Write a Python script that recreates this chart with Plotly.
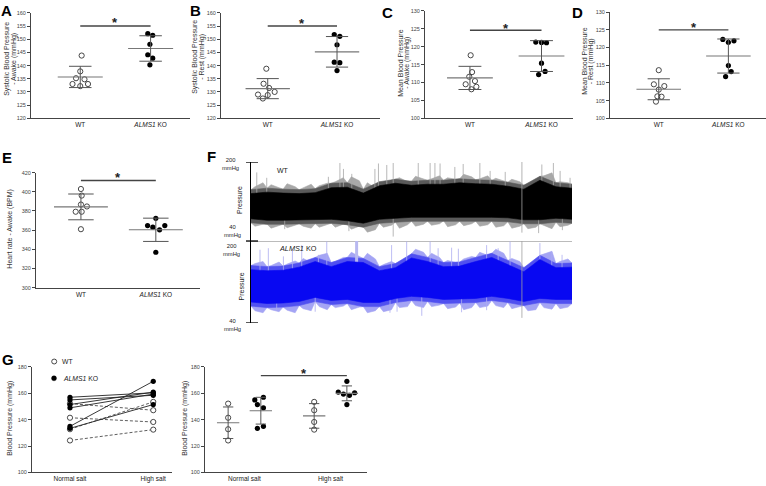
import numpy as np
import plotly.graph_objects as go

W, H = 766, 486
FONT = "Liberation Sans, Arial, Helvetica, sans-serif"
AX = "#444444"
TXT = "#333333"

# ---------------- data ----------------
genotype_ticks = ["WT", "<i>ALMS1</i> KO"]

sbp_awake_wt = [143.8, 137.8, 135.2, 134.8, 133.0, 133.0, 132.2]
sbp_awake_ko = [152.1, 151.5, 148.1, 144.1, 142.8, 140.3]
sbp_rest_wt = [138.8, 133.1, 131.5, 129.0, 130.0, 127.5, 128.8]
sbp_rest_ko = [151.8, 151.1, 147.9, 141.3, 141.1, 138.1]
mbp_awake_wt = [117.6, 112.9, 111.6, 110.4, 109.5, 108.8, 108.1]
mbp_awake_ko = [121.3, 121.1, 121.2, 115.4, 113.1, 112.2]
mbp_rest_wt = [113.6, 109.6, 109.1, 108.1, 106.2, 106.1, 104.7]
mbp_rest_ko = [122.3, 121.5, 121.9, 114.9, 113.2, 111.8]
hr_awake_wt = [402.9, 396.0, 386.7, 384.7, 379.2, 379.2, 361.0]
hr_awake_ko = [372.3, 364.8, 363.1, 364.8, 360.3, 337.0]

# horizontal scatter of the dots (category units)
jit_a_wt = [0.02, 0.0, -0.06, 0.06, -0.11, 0.11, 0.0]
jit_a_ko = [-0.04, 0.03, -0.01, -0.04, 0.03, -0.01]
jit_b_wt = [-0.02, -0.06, 0.02, -0.14, 0.10, -0.07, 0.0]
jit_b_ko = [-0.04, 0.04, 0.0, -0.04, 0.04, 0.0]
jit_c_wt = [0.01, 0.03, -0.01, 0.07, -0.06, 0.09, 0.02]
jit_c_ko = [-0.08, 0.07, 0.0, 0.0, 0.05, -0.04]
jit_d_wt = [0.0, -0.07, 0.08, 0.0, -0.02, 0.04, -0.04]
jit_d_ko = [-0.08, 0.0, 0.08, 0.0, 0.04, -0.04]
jit_e_wt = [0.0, 0.01, 0.0, 0.08, -0.07, 0.01, 0.0]
jit_e_ko = [0.0, -0.11, -0.04, 0.12, 0.05, 0.0]

# panel G: salt diet
salt_ticks = ["Normal salt", "High salt"]
wt_normal = [152.1, 141.4, 132.7, 124.2]
wt_high = [147.1, 138.2, 153.4, 132.4]
ko_normal = [156.9, 154.9, 151.4, 148.9, 134.9, 133.4]
ko_high = [160.3, 158.4, 160.8, 159.3, 169.0, 151.4]
jit_g_ko_normal = [0.03, -0.07, -0.04, 0.03, 0.03, -0.04]
jit_g_ko_high = [0.09, 0.03, -0.10, -0.04, 0.0, 0.0]

# panel F: telemetry pressure traces (envelopes read every 5 % of the record)
f_t = [0, 5, 10, 15, 20, 25, 30, 35, 40, 45, 50, 55, 60, 65, 70, 75, 80, 85, 90, 95, 100]
wt_core_hi = [136, 139, 137, 136, 138, 148, 149, 137, 152, 157, 153, 155, 155, 158, 156, 155, 151, 145, 163, 150, 147]
wt_core_lo = [85, 82, 82, 83, 83, 84, 81, 76, 84, 86, 88, 88, 89, 88, 88, 88, 87, 83, 83, 86, 84]
wt_fringe_hi = [144, 147, 145, 144, 146, 157, 158, 145, 160, 165, 161, 163, 163, 166, 164, 163, 159, 153, 171, 158, 155]
wt_fringe_lo = [77, 74, 74, 75, 75, 76, 73, 68, 76, 78, 80, 80, 81, 80, 80, 80, 79, 75, 75, 78, 76]
ko_core_hi = [144, 142, 143, 149, 160, 150, 160, 158, 142, 148, 167, 160, 150, 151, 160, 168, 154, 140, 164, 148, 149]
ko_core_lo = [81, 78, 79, 82, 90, 84, 86, 80, 80, 88, 92, 90, 86, 87, 88, 92, 88, 82, 88, 86, 86]
ko_fringe_hi = [152, 150, 151, 157, 168, 158, 168, 166, 150, 156, 175, 168, 158, 159, 168, 176, 162, 148, 172, 156, 157]
ko_fringe_lo = [73, 70, 71, 74, 82, 76, 78, 72, 72, 80, 84, 82, 78, 79, 80, 84, 80, 74, 80, 78, 78]

# short excursions ("hair") at the band edges, read every 2.5 % of the record
hair_t = [1.25, 3.75, 6.25, 8.75, 11.25, 13.75, 16.25, 18.75, 21.25, 23.75,
          26.25, 28.75, 31.25, 33.75, 36.25, 38.75, 41.25, 43.75, 46.25, 48.75,
          51.25, 53.75, 56.25, 58.75, 61.25, 63.75, 66.25, 68.75, 71.25, 73.75,
          76.25, 78.75, 81.25, 83.75, 86.25, 88.75, 91.25, 93.75, 96.25, 98.75]
wt_hair_hi = [150, 158, 154, 149, 156, 150, 148, 155, 152, 157, 160, 168, 170, 162, 158, 147, 152, 163, 168, 160,
              171, 165, 166, 172, 168, 165, 175, 170, 166, 172, 167, 162, 165, 160, 156, 150, 172, 178, 160, 158]
wt_hair_lo = [70, 74, 66, 71, 67, 72, 70, 66, 68, 73, 68, 74, 64, 70, 58, 63, 68, 72, 66, 73,
              70, 74, 72, 75, 69, 73, 71, 75, 70, 73, 68, 71, 66, 70, 65, 68, 72, 65, 69, 72]
ko_hair_hi = [156, 160, 152, 159, 155, 161, 166, 158, 172, 176, 160, 168, 178, 170, 176, 165, 154, 160, 158, 166,
              184, 178, 176, 168, 162, 158, 165, 170, 178, 172, 184, 176, 166, 160, 152, 158, 175, 180, 160, 165]
ko_hair_lo = [64, 60, 66, 62, 65, 60, 68, 64, 72, 66, 70, 73, 66, 71, 60, 64, 62, 66, 70, 72,
              74, 70, 72, 75, 68, 71, 66, 70, 70, 73, 74, 70, 68, 72, 64, 66, 70, 67, 68, 71]

wt_spike_t = [1.8, 4.9, 24.1, 27.7, 28.8, 31.4, 38.6, 39.7, 42.3, 44.3, 52.1, 55.8, 57.3, 58.9,
              63.5, 66.1, 71.3, 74.5, 79.2, 90.6, 94.2, 96.3, 99.4]
wt_spike_top = [179, 168, 170, 198, 186, 176, 186, 197, 194, 198, 198, 198, 198, 197,
                190, 196, 198, 182, 180, 195, 198, 182, 168]
wt_dip_t = [10.5, 30.5, 44.3, 89.6, 97.0]
wt_dip_low = [64, 60, 49, 56, 62]
ko_spike_t = [2.8, 5.4, 10.1, 12.9, 15.8, 21.0, 23.6, 43.8, 48.5, 55.8, 58.3, 62.5, 64.6,
              73.4, 77.0, 80.7, 90.0, 93.7, 96.9]
ko_spike_top = [183, 186, 170, 183, 192, 173, 199, 192, 199, 199, 186, 187, 185,
                192, 186, 199, 196, 179, 173]
ko_band_t = [32.9]
ko_band_top = [200]
ko_dip_t = [8.0, 20.0, 43.3, 45.5, 53.2, 65.6, 73.4]
ko_dip_low = [64, 62, 60, 62, 54, 61, 65]
marker_t = [84.4]
wt_marker_low = [57]
ko_marker_low = [50]


# ---------------- helpers ----------------
def xdom(a, b):
    return [a / W, b / W]


def ydom(top, bottom):
    return [1 - bottom / H, 1 - top / H]


def axn(n, k):
    return k if n == 1 else f"{k}{n}"


def layn(n, k):
    return f"{k}axis" if n == 1 else f"{k}axis{n}"


fig = go.Figure()
layout = dict(width=W, height=H, margin=dict(l=0, r=0, t=0, b=0), autosize=False,
              paper_bgcolor="white", plot_bgcolor="white", showlegend=False,
              font=dict(family=FONT, color=TXT))
annotations = []
shapes = []


def value_axis(n, top, bottom, rng, dtick):
    return dict(domain=ydom(top, bottom), range=rng, dtick=dtick, tick0=rng[0],
                showline=True, linecolor=AX, linewidth=1, ticks="outside", ticklen=3,
                tickwidth=1, tickcolor=AX, tickfont=dict(size=5.5, color="#444"),
                showgrid=False, zeroline=False, anchor=axn(n, "x"), fixedrange=True)


def cat_axis(n, left, right, rng, ticktext, tickvals=(0, 1)):
    return dict(domain=xdom(left, right), range=rng, tickvals=list(tickvals), ticktext=ticktext,
                showline=True, linecolor=AX, linewidth=1, ticks="",
                tickfont=dict(size=6.5, color="#222"), showgrid=False, zeroline=False,
                anchor=axn(n, "y"), fixedrange=True)


def errbars(n, positions, groups, mean_hw, cap_hw):
    mx, my, ex, ey = [], [], [], []
    for pos, vals in zip(positions, groups):
        m = float(np.mean(vals))
        s = float(np.std(vals, ddof=1))
        mx += [pos - mean_hw, pos + mean_hw, None]
        my += [m, m, None]
        for v in (m - s, m + s):
            ex += [pos - cap_hw, pos + cap_hw, None]
            ey += [v, v, None]
        ex += [pos, pos, None]
        ey += [m - s, m + s, None]
    fig.add_trace(go.Scatter(x=mx, y=my, xaxis=axn(n, "x"), yaxis=axn(n, "y"), mode="lines",
                             line=dict(color="#777", width=1.1), hoverinfo="skip"))
    fig.add_trace(go.Scatter(x=ex, y=ey, xaxis=axn(n, "x"), yaxis=axn(n, "y"), mode="lines",
                             line=dict(color="#555", width=1), hoverinfo="skip"))


def dots(n, pos, vals, jit, filled, size=5.2):
    marker = dict(size=size, color="black", line=dict(width=0)) if filled else \
        dict(size=size, color="rgba(255,255,255,0)", line=dict(width=0.9, color="#333"))
    fig.add_trace(go.Scatter(x=[pos + j for j in jit], y=vals, xaxis=axn(n, "x"),
                             yaxis=axn(n, "y"), mode="markers", marker=marker, hoverinfo="skip"))


def sig(n, x0, x1, level, star_px):
    fig.add_trace(go.Scatter(x=[x0, x1], y=[level, level], xaxis=axn(n, "x"), yaxis=axn(n, "y"),
                             mode="lines", line=dict(color="#444", width=1.4), hoverinfo="skip"))
    annotations.append(dict(text="<b>*</b>", x=(x0 + x1) / 2, y=level, xref=axn(n, "x"),
                            yref=axn(n, "y"), showarrow=False, yanchor="middle",
                            yshift=star_px - 3.5, font=dict(size=13, color="#222")))


def text(t, x, y, size=7, angle=0, xanchor="center", yanchor="middle", color=TXT, bold=False):
    annotations.append(dict(text=f"<b>{t}</b>" if bold else t, x=x / W, y=1 - y / H,
                            xref="paper", yref="paper", showarrow=False, textangle=angle,
                            xanchor=xanchor, yanchor=yanchor,
                            font=dict(size=size, color=color, family=FONT)))


# ---------------- panels A-E ----------------
dot_panels = [
    (1, 31, 190, 10, 116.7, [-0.70, 1.56], [120, 160], 5, sbp_awake_wt, sbp_awake_ko,
     jit_a_wt, jit_a_ko, 155, 6.7),
    (2, 221, 380, 10, 116.7, [-0.674, 1.62], [120, 160], 5, sbp_rest_wt, sbp_rest_ko,
     jit_b_wt, jit_b_ko, 155, 6.0),
    (3, 425, 573, 8, 116.7, [-0.628, 1.44], [100, 130], 5, mbp_awake_wt, mbp_awake_ko,
     jit_c_wt, jit_c_ko, 124.6, 5.7),
    (4, 610, 766, 9.3, 116.7, [-0.70, 1.54], [100, 130], 5, mbp_rest_wt, mbp_rest_ko,
     jit_d_wt, jit_d_ko, 125, 5.7),
    (5, 36, 200, 171.7, 288.3, [-0.6, 1.59], [300, 420], 20, hr_awake_wt, hr_awake_ko,
     jit_e_wt, jit_e_ko, 411.8, 6.3),
]
for (n, xl, xr, yt, yb, xrng, yrng, dt, wt, ko, jw, jk, lvl, spx) in dot_panels:
    layout[layn(n, "x")] = cat_axis(n, xl, xr, xrng, genotype_ticks)
    layout[layn(n, "y")] = value_axis(n, yt, yb, yrng, dt)
    dots(n, 0, wt, jw, False)
    dots(n, 1, ko, jk, True)
    mhw, chw = (0.36, 0.17) if n == 5 else (0.32, 0.16)
    errbars(n, [0, 1], [wt, ko], mhw, chw)
    sig(n, 0, 1, lvl, spx)

# axis titles
text("Systolic Blood Pressure", 7.5, 57, angle=-90)
text("- Awake (mmHg)", 14.5, 57, angle=-90)
text("Systolic Blood Pressure", 195.5, 55, angle=-90)
text("- Rest (mmHg)", 202.5, 55, angle=-90)
text("Mean Blood Pressure", 400.5, 61, angle=-90)
text("- Awake (mmHg)", 407.5, 61, angle=-90)
text("Mean Blood Pressure", 584.5, 59, angle=-90)
text("- Rest (mmHg)", 591, 59, angle=-90)
text("Heart rate - Awake (BPM)", 10.5, 229, angle=-90)

# ---------------- panel F ----------------
for n, yt, yb in ((6, 161, 241), (7, 241, 324)):
    layout[layn(n, "x")] = dict(domain=xdom(251, 572), range=[0, 100], showgrid=False,
                                zeroline=False, showticklabels=False, ticks="",
                                showline=(n == 6), linecolor="#bbbbbb", linewidth=1,
                                anchor=axn(n, "y"), fixedrange=True)
    layout[layn(n, "y")] = dict(domain=ydom(yt, yb), range=[40, 200], showgrid=False,
                                zeroline=False, showticklabels=False, ticks="",
                                showline=True, linecolor="black", linewidth=1.5,
                                anchor=axn(n, "x"), fixedrange=True)
    for v in (40, 200):
        shapes.append(dict(type="line", xref="paper", yref=axn(n, "y"), x0=246 / W, x1=258 / W,
                           y0=v, y1=v, line=dict(color="black", width=1.3)))


def merged(t1, v1, t2, v2):
    pts = sorted(zip(list(t1) + list(t2), list(v1) + list(v2)))
    return [p[0] for p in pts], [p[1] for p in pts]


def band_xy(n, ts_hi, hi, ts_lo, lo, color, width=0.6):
    fig.add_trace(go.Scatter(x=list(ts_hi) + list(ts_lo)[::-1], y=list(hi) + list(lo)[::-1],
                             xaxis=axn(n, "x"), yaxis=axn(n, "y"), mode="lines", fill="toself",
                             fillcolor=color, line=dict(color=color, width=width),
                             hoverinfo="skip"))


def vlines(n, ts, ends, base, color, width):
    xs, ys = [], []
    for t, v in zip(ts, ends):
        xs += [t, t, None]
        ys += [base, v, None]
    fig.add_trace(go.Scatter(x=xs, y=ys, xaxis=axn(n, "x"), yaxis=axn(n, "y"), mode="lines",
                             line=dict(color=color, width=width), hoverinfo="skip"))


def trace_panel(n, core_hi, core_lo, fr_hi, fr_lo, hair_hi, hair_lo, c_fringe, c_hair, c_core):
    th, vh = merged(f_t, fr_hi, hair_t, hair_hi)
    tl, vl = merged(f_t, fr_lo, hair_t, hair_lo)
    band_xy(n, th, vh, tl, vl, c_fringe)
    band_xy(n, f_t, fr_hi, f_t, fr_lo, c_hair)
    return core_hi, core_lo, c_core


# WT record
trace_panel(6, wt_core_hi, wt_core_lo, wt_fringe_hi, wt_fringe_lo, wt_hair_hi, wt_hair_lo,
            "#a8a8a8", "#5a5a5a", "#000")
vlines(6, wt_spike_t, wt_spike_top, 120, "#a6a6a6", 0.8)
vlines(6, wt_dip_t, wt_dip_low, 100, "#a6a6a6", 0.8)
band_xy(6, f_t, wt_core_hi, f_t, wt_core_lo, "#000000")
vlines(6, marker_t, wt_marker_low, 200, "#a0a0a0", 0.8)

# KO record
trace_panel(7, ko_core_hi, ko_core_lo, ko_fringe_hi, ko_fringe_lo, ko_hair_hi, ko_hair_lo,
            "#a4a4f4", "#5050f0", "#0808f2")
vlines(7, ko_spike_t, ko_spike_top, 120, "#acacf0", 0.8)
vlines(7, ko_band_t, ko_band_top, 120, "#b8b8f0", 3)
vlines(7, ko_dip_t, ko_dip_low, 100, "#acacf0", 0.8)
band_xy(7, f_t, ko_core_hi, f_t, ko_core_lo, "#0808f2")
vlines(7, marker_t, ko_marker_low, 200, "#a0a0a0", 0.8)

text("200<br>mmHg", 230, 163, size=5.8, color="#222")
text("40<br>mmHg", 232, 230.5, size=5.8, color="#222")
text("200<br>mmHg", 231, 250.5, size=5.8, color="#222")
text("40<br>mmHg", 232, 326.5, size=5.8, color="#222")
text("Pressure", 239.5, 199, size=7, angle=-90, color="#222")
text("Pressure", 241, 287, size=7, angle=-90, color="#222")
text("WT", 275, 170, size=7, xanchor="left", color="#222")
text("<i>ALMS1</i> KO", 277, 248.7, size=7.3, xanchor="left", color="#222")

# ---------------- panel G ----------------
layout[layn(8, "x")] = cat_axis(8, 32, 172, [-0.456, 1.225], salt_ticks)
layout[layn(8, "y")] = value_axis(8, 368.3, 475.3, [100, 180], 20)
layout[layn(9, "x")] = cat_axis(9, 205, 367, [-0.459, 1.424], salt_ticks)
layout[layn(9, "y")] = value_axis(9, 368.3, 475.3, [100, 180], 20)

# left: paired lines
lx, ly = [], []
for a, b in zip(wt_normal, wt_high):
    lx += [0, 1, None]
    ly += [a, b, None]
fig.add_trace(go.Scatter(x=lx, y=ly, xaxis="x8", yaxis="y8", mode="lines",
                         line=dict(color="#333", width=0.8, dash="3px,2px"), hoverinfo="skip"))
lx, ly = [], []
for a, b in zip(ko_normal, ko_high):
    lx += [0, 1, None]
    ly += [a, b, None]
fig.add_trace(go.Scatter(x=lx, y=ly, xaxis="x8", yaxis="y8", mode="lines",
                         line=dict(color="#222", width=0.9), hoverinfo="skip"))
for pos, vals in ((0, wt_normal), (1, wt_high)):
    fig.add_trace(go.Scatter(x=[pos] * len(vals), y=vals, xaxis="x8", yaxis="y8", mode="markers",
                             marker=dict(size=5.2, color="white", line=dict(width=0.9, color="#333")),
                             hoverinfo="skip"))
for pos, vals in ((0, ko_normal), (1, ko_high)):
    fig.add_trace(go.Scatter(x=[pos] * len(vals), y=vals, xaxis="x8", yaxis="y8", mode="markers",
                             marker=dict(size=5.2, color="black"), hoverinfo="skip"))

# right: grouped scatter
G_OFF = 0.19
dots(9, 0 - G_OFF, wt_normal, [0] * len(wt_normal), False)
dots(9, 1 - G_OFF, wt_high, [0] * len(wt_high), False)
dots(9, 0 + G_OFF, ko_normal, jit_g_ko_normal, True)
dots(9, 1 + G_OFF, ko_high, jit_g_ko_high, True)
errbars(9, [0 - G_OFF, 0 + G_OFF, 1 - G_OFF, 1 + G_OFF],
        [wt_normal, ko_normal, wt_high, ko_high], 0.13, 0.06)
sig(9, 0 + G_OFF, 1 + G_OFF, 173.3, 5.7)

text("Blood Pressure (mmHg)", 10, 421, angle=-90)
text("Blood Pressure (mmHg)", 185, 421, angle=-90)

# legend of G
shapes.append(dict(type="circle", xref="paper", yref="paper", x0=51.7 / W, x1=56.7 / W,
                   y0=1 - 365.5 / H, y1=1 - 360.5 / H, line=dict(color="#333", width=0.9),
                   fillcolor="white"))
shapes.append(dict(type="circle", xref="paper", yref="paper", x0=51.5 / W, x1=56.5 / W,
                   y0=1 - 382.5 / H, y1=1 - 377.5 / H, line=dict(color="black", width=0.5),
                   fillcolor="black"))
text("WT", 60, 363, size=6.8, xanchor="left", color="#222")
text("<i>ALMS1</i> KO", 61, 380, size=6.8, xanchor="left", color="#222")

# panel letters
for letter, x, y in (("A", 6.7, 8), ("B", 195, 8), ("C", 387, 10), ("D", 577, 10),
                     ("E", 6.7, 156.7), ("F", 211.7, 155.5), ("G", 7.5, 361)):
    text(letter, x, y, size=15, bold=True, color="black")

layout["annotations"] = annotations
layout["shapes"] = shapes
fig.update_layout(**layout)

fig.write_html("out.html", config={"displayModeBar": False, "staticPlot": True},
               post_script="document.body.style.margin='0';document.body.style.overflow='hidden';")
